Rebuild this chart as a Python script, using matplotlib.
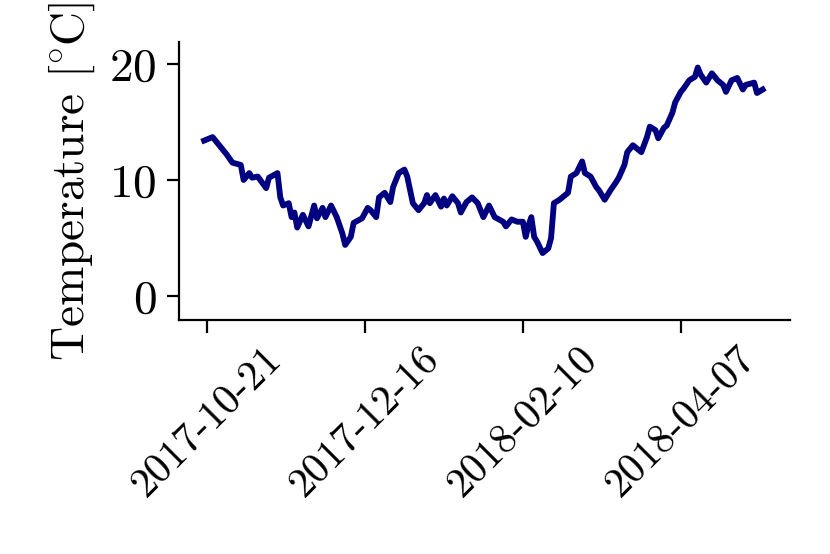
import matplotlib
matplotlib.use("Agg")
import matplotlib.pyplot as plt
import pandas as pd

plt.rcParams["font.family"] = "serif"
plt.rcParams["font.serif"] = ["cmr10", "DejaVu Serif"]
plt.rcParams["mathtext.fontset"] = "cm"
plt.rcParams["axes.formatter.use_mathtext"] = True

start = pd.Timestamp("2017-10-21")
day_offsets = [-1, 2, 5, 7, 9, 12, 13, 15, 16, 18, 21, 22, 25, 26, 27, 29, 30, 31, 32, 34,
               36, 38, 39, 41, 42, 44, 46, 48, 49, 51, 52, 55, 57, 58, 60, 61, 63, 65, 66, 68,
               70, 71, 73, 75, 77, 78, 79, 81, 83, 84, 85, 87, 89, 90, 92, 94, 96, 98, 100, 102,
               105, 106, 108, 110, 112, 113, 114, 115, 116, 117, 119, 121, 122, 123, 125, 128, 129, 131, 133, 134,
               136, 138, 139, 141, 143, 145, 146, 148, 149, 151, 154, 156, 157, 159, 160, 162, 163, 165, 166, 168,
               169, 171, 173, 174, 175, 177, 179, 181, 183, 184, 186, 188, 190, 191, 194, 195, 197]
temperature = [13.4, 13.7, 12.8, 12.2, 11.5, 11.3, 10.0, 10.6, 10.2, 10.3, 9.3, 10.2, 10.6, 8.5, 7.8, 8.0, 6.8, 7.2, 5.9, 7.0,
               6.0, 7.8, 6.7, 7.6, 6.8, 7.8, 6.8, 5.4, 4.4, 5.1, 6.3, 6.7, 7.6, 7.4, 6.8, 8.5, 8.9, 8.1, 9.4, 10.6,
               10.9, 10.3, 8.0, 7.4, 8.0, 8.7, 8.0, 8.7, 7.7, 8.4, 7.8, 8.6, 8.0, 7.2, 8.1, 8.5, 8.0, 6.8, 7.8, 6.8,
               6.4, 6.0, 6.6, 6.4, 6.4, 5.1, 6.1, 6.8, 5.1, 4.7, 3.7, 4.1, 5.0, 8.0, 8.3, 8.9, 10.3, 10.6, 11.6, 10.6,
               10.3, 9.4, 9.1, 8.3, 9.1, 9.8, 10.2, 11.3, 12.4, 13.0, 12.4, 13.7, 14.6, 14.3, 13.6, 14.5, 14.7, 15.8, 16.7, 17.6,
               17.9, 18.6, 18.9, 19.7, 19.1, 18.4, 19.2, 18.6, 18.2, 17.6, 18.6, 18.8, 17.8, 18.2, 18.4, 17.5, 17.8]
tick_dates = ["2017-10-21", "2017-12-16", "2018-02-10", "2018-04-07"]

dates = start + pd.to_timedelta(day_offsets, unit="D")

fig = plt.figure(figsize=(8.3, 5.54), dpi=100)
ax = fig.add_axes([0.2157, 0.4224, 0.7361, 0.5018])
ax.plot(dates, temperature, color="#000080", linewidth=4.2)

ax.set_xticks(pd.to_datetime(tick_dates))
ax.set_xticklabels(tick_dates, rotation=45)
ax.set_yticks([0, 10, 20])
ax.set_ylim(-2.07, 21.9)
ax.set_xlim(start + pd.Timedelta(days=-9.9), start + pd.Timedelta(days=206.7))
ax.set_ylabel(r"Temperature [$\!^\circ\!$C]", fontsize=34, labelpad=9)
ax.tick_params(width=1.6, length=9, direction="out", pad=7)
ax.tick_params(axis="y", labelsize=34)
ax.tick_params(axis="x", labelsize=30, pad=5)
for side in ["top", "right"]:
    ax.spines[side].set_visible(False)
for side in ["left", "bottom"]:
    ax.spines[side].set_linewidth(1.6)

fig.savefig("out.png", dpi=100)
